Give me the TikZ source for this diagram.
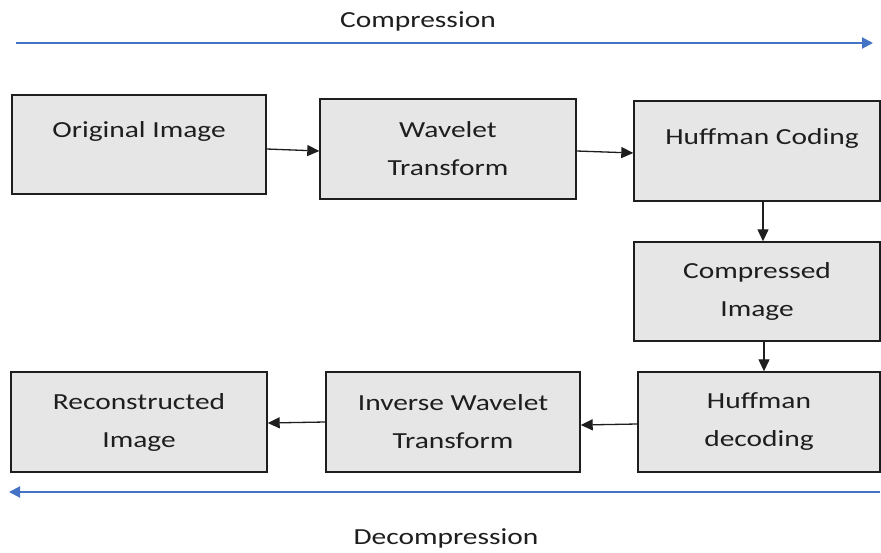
\documentclass[tikz,border=0pt]{standalone}
\usepackage{fontspec}
\setmainfont[FakeStretch=1.28]{Carlito}
\usetikzlibrary{arrows.meta,calc}
\definecolor{boxfill}{RGB}{230,230,230}
\definecolor{boxline}{RGB}{30,30,30}
\definecolor{txt}{RGB}{30,30,30}
\definecolor{flowblue}{RGB}{68,114,196}
\begin{document}
\begin{tikzpicture}[x=1pt,y=-1pt,
  box/.style={draw=boxline, fill=boxfill, line width=1.4pt, align=center, text=txt,
    font=\fontsize{23}{38}\selectfont, inner sep=0pt},
  conn/.style={draw=boxline, line width=1.3pt, -{Triangle[length=12pt,width=11pt]}},
  flow/.style={draw=flowblue, line width=2pt, -{Triangle[length=11pt,width=11pt]}},
  lbl/.style={text=txt, font=\fontsize{23}{28}\selectfont, inner sep=0pt}]
\useasboundingbox (0,0) rectangle (881,552);
\fill[white] (0,0) rectangle (881,552);

\node[lbl] (tcomp) at (418,21) {Compression};
\coordinate (cs) at (16,43);
\coordinate (ce) at (873,43);
\draw[flow] (cs) -- (ce);

\node[box, minimum width=254pt, minimum height=99pt] (orig) at (139,144.5) {};
\node[lbl] (torig) at ($(orig.center)+(0,-13)$) {Original Image};
\node[box, minimum width=256pt, minimum height=100pt] (wav) at (448,149) {Wavelet\\Transform};
\node[box, minimum width=246pt, minimum height=100pt] (huffc) at (757,151) {};
\node[lbl] (thuffc) at ($(huffc.center)+(5,-13)$) {Huffman Coding};
\node[box, minimum width=246pt, minimum height=99pt] (comp) at (757,291.5) {Compressed\\Image};
\node[box, minimum width=242pt, minimum height=100pt] (huffd) at (759,422) {Huffman\\decoding};
\node[box, minimum width=254pt, minimum height=100pt] (inv) at (453,422) {Inverse Wavelet\\Transform};
\node[box, minimum width=256pt, minimum height=100pt] (recon) at (139,422) {Reconstructed\\Image};

\draw[conn] (orig.east |- 0,149) -- (wav.west |- 0,151);
\draw[conn] (wav.east |- 0,151) -- (huffc.west |- 0,153);
\draw[conn] (huffc.south -| 763,0) -- (comp.north -| 763,0);
\draw[conn] (comp.south -| 764,0) -- (huffd.north -| 764,0);
\draw[conn] (huffd.west |- 0,424) -- (inv.east |- 0,425);
\draw[conn] (inv.west |- 0,422) -- (recon.east |- 0,423);

\coordinate (ds) at (880,492);
\coordinate (de) at (9,492);
\draw[flow] (ds) -- (de);
\node[lbl] (tdec) at (446,538) {Decompression};
\end{tikzpicture}
\end{document}
